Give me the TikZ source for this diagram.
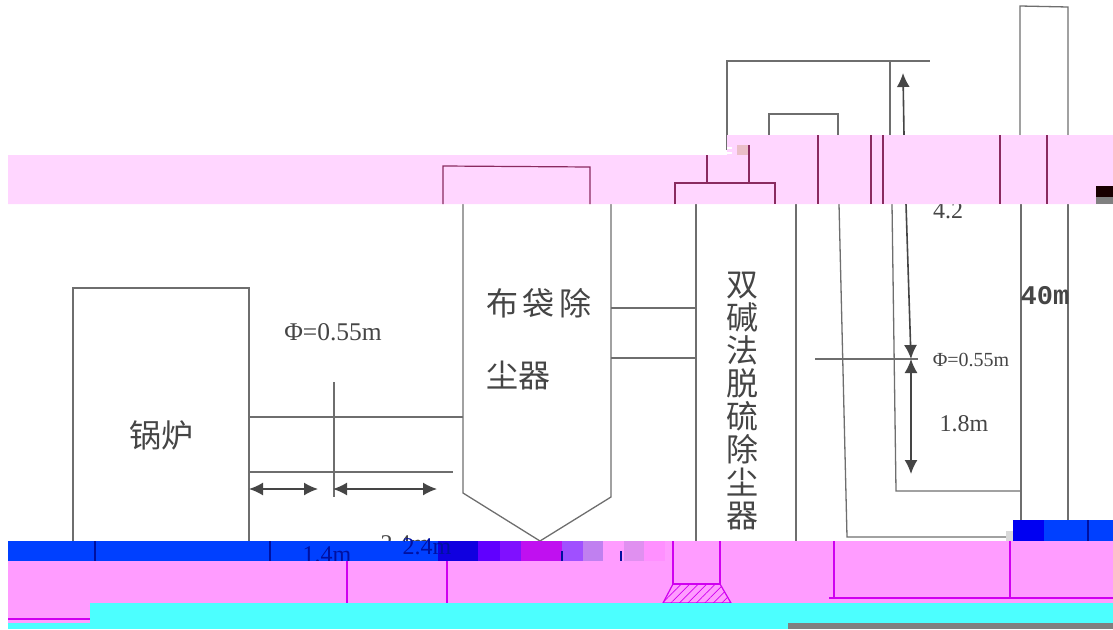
\documentclass[tikz,border=0pt]{standalone}
\usepackage{fontspec}
\setmainfont{Liberation Serif}
\newfontfamily\cjk{Noto Sans CJK SC}
\newfontfamily\stackfont{Liberation Mono}
\usetikzlibrary{arrows.meta}
\usetikzlibrary{patterns.meta}
\definecolor{ink}{HTML}{6E6E6E}
\definecolor{inkdark}{HTML}{454545}
\definecolor{maroon}{HTML}{8A2A60}
\definecolor{navy}{HTML}{0010A0}
\definecolor{violet}{HTML}{D000F0}
\definecolor{paleband}{HTML}{FFD6FF}
\definecolor{pinkband}{HTML}{FF9CFF}
\definecolor{blueband}{HTML}{0040FF}
\definecolor{cyanband}{HTML}{4CFFFF}
\begin{document}
\begin{tikzpicture}[x=1pt,y=-1pt,
    duct/.style={draw=ink,line width=1.3pt},
    paleduct/.style={draw=maroon,line width=1.2pt},
    blueduct/.style={draw=navy,line width=1.2pt},
    pinkduct/.style={draw=violet,line width=1.2pt},
    dim/.style={draw=inkdark,line width=1.6pt,>={Latex[length=14pt,width=13pt]}},
    label/.style={text=inkdark,font=\fontsize{24}{26}\selectfont,inner sep=0pt},
    hanzi/.style={text=inkdark,font=\cjk\fontsize{32}{32}\selectfont,inner sep=0pt}]
    \useasboundingbox (0,0) rectangle (1113,629);

    \draw[duct] (727,150) -- (727,61) -- (930,61);
    \draw[duct] (890,61) -- (890,135);
    \draw[duct] (769,135) -- (769,114) -- (838,114) -- (838,135);
    \draw[duct] (1020,135) -- (1020,6) -- (1068,7) -- (1068,135);
    \coordinate (uptop) at (903,73);
    \coordinate (upend) at (904,135);
    \draw[dim,->] (upend) -- (uptop);

    \draw[duct] (463,204) -- (463,493) -- (540,541) -- (611,497) -- (611,204);
    \draw[duct] (696,204) -- (696,541);
    \draw[duct] (796,204) -- (796,541);
    \draw[duct] (611,308) -- (696,308);
    \draw[duct] (611,358) -- (696,358);
    \draw[duct] (73,541) -- (73,288) -- (249,288) -- (249,541);
    \draw[duct] (249,417) -- (463,417);
    \draw[duct] (249,472) -- (453,472);
    \draw[duct] (334,382) -- (334,497);
    \draw[duct] (839,204) -- (847,537) -- (1006,537);
    \draw[duct] (892,204) -- (896,491) -- (1021,491);
    \draw[duct] (1021,204) -- (1021,520);
    \draw[duct] (1068,204) -- (1068,520);
    \draw[duct] (815,359) -- (918,359);

    \coordinate (aL) at (249,489);
    \coordinate (aR) at (318,489);
    \coordinate (bL) at (333,489);
    \coordinate (bR) at (437,489);
    \coordinate (cT) at (906,204);
    \coordinate (cB) at (911,359);
    \coordinate (dT) at (911,359);
    \coordinate (dB) at (911,474);
    \draw[dim,<->] (aL) -- (aR);
    \draw[dim,<->] (bL) -- (bR);
    \draw[dim,->] (cT) -- (cB);
    \draw[dim,<->] (dT) -- (dB);

    \node[hanzi] (boiler) at (161,435) {锅炉};
    \node[hanzi] (bagA) at (539,303) {布\hspace{5pt}袋\hspace{5pt}除};
    \node[hanzi] (bagB) at (518,376) {尘器};
    \node[hanzi,align=center] (scrubber) at (742,401) {双\\[1pt]碱\\[1pt]法\\[1pt]脱\\[1pt]硫\\[1pt]除\\[1pt]尘\\[1pt]器};
    \node[label,font=\fontsize{25.5}{27}\selectfont] (dia) at (333,332) {Φ=0.55m};
    \node[label,font=\fontsize{20}{22}\selectfont] (diaB) at (971,360) {Φ=0.55m};
    \node[label] (hB) at (964,424) {1.8m};
    \node[label] (hA) at (948,211) {4.2};
    \node[label] (frag) at (405,544) {2.4m};
    \node[text=inkdark,font=\stackfont\bfseries\fontsize{27}{29}\selectfont,inner sep=0pt] (stack) at (1045,296) {40m};

    \fill[paleband] (8,155) -- (727,155) -- (727,135) -- (1113,135) -- (1113,204) -- (8,204) -- cycle;
    \fill[pink!70!maroon!60] (737,145) rectangle (748,155);
    \fill[white] (727,147) rectangle (732,149);
    \fill[white] (727,152) rectangle (732,154);
    \fill[black!90!red] (1096,186) rectangle (1113,197);
    \fill[black!50!white] (1096,197) rectangle (1113,204);
    \draw[paleduct] (443,204) -- (443,166) -- (590,167) -- (590,204);
    \draw[paleduct] (675,204) -- (675,183) -- (775,183) -- (775,204);
    \draw[paleduct] (707,155) -- (707,183);
    \draw[paleduct] (749,145) -- (749,183);
    \foreach \xa in {818,871,883,1000,1047}
        \draw[paleduct] (\xa,135) -- (\xa,204);

    \fill[blueband] (8,541) rectangle (438,561);
    \foreach \xa/\xb/\c in {438/478/1000E0,478/500/6000FF,500/521/8010FF,521/562/C010F0,562/583/A050FF,583/603/C080F0,603/624/FF9CFF,624/644/E090F0,644/665/FF90FF}{
        \definecolor{blk}{HTML}{\c}
        \fill[blk] (\xa,541) rectangle (\xb,561);
    }
    \fill[pinkband] (665,541) rectangle (1113,561);
    \draw[blueduct] (95,541) -- (95,561);
    \draw[blueduct] (270,541) -- (270,561);
    \draw[blueduct] (621,551) -- (621,561);
    \draw[blueduct] (562,551) -- (562,561);
    \node[label,text=navy] (bendA) at (327,555) {1.4m};
    \node[label,text=navy] (bendB) at (427,547) {2.4m};

    \fill[pinkband] (8,561) rectangle (1113,603);
    \fill[pinkband] (8,603) rectangle (90,623);
    \draw[pinkduct] (8,619) -- (90,619);
    \draw[pinkduct] (347,561) -- (347,603);
    \draw[pinkduct] (447,561) -- (447,603);
    \draw[pinkduct] (673,541) -- (673,584) -- (720,584) -- (720,541);
    \draw[pinkduct,pattern={Lines[angle=45,distance=6pt,line width=0.7pt]},pattern color=violet] (673,584) -- (720,584) -- (731,603) -- (663,603) -- cycle;
    \draw[pinkduct] (834,541) -- (834,598);
    \draw[pinkduct] (1010,541) -- (1010,598);
    \draw[pinkduct] (829,598) -- (1113,598);

    \fill[cyanband] (90,603) rectangle (1113,629);
    \fill[cyanband] (8,623) rectangle (90,629);
    \fill[black!50!white] (788,623) rectangle (1113,629);

    \fill[black!15!white] (1006,531) rectangle (1013,541);
    \fill[blueband] (1013,520) rectangle (1113,541);
    \fill[blue!95!black] (1013,520) rectangle (1044,541);
    \draw[blueduct] (1088,520) -- (1088,541);
\end{tikzpicture}
\end{document}
